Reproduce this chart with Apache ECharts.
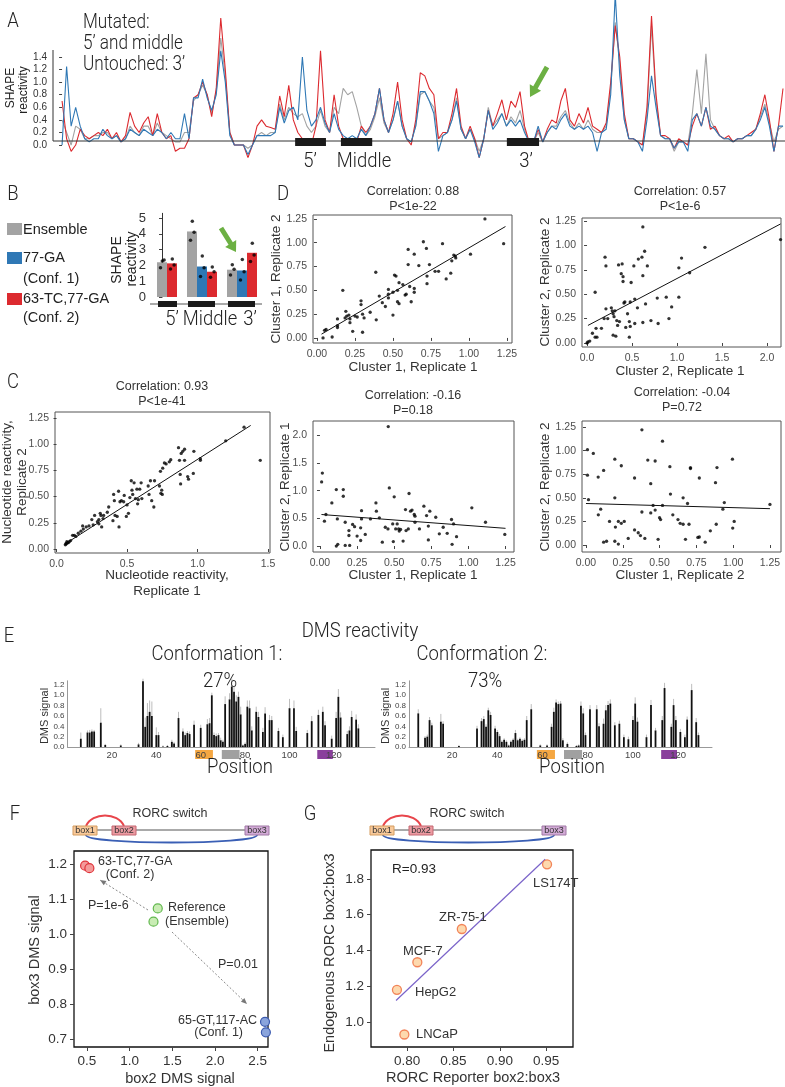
<!DOCTYPE html>
<html><head><meta charset="utf-8">
<script src="https://cdn.jsdelivr.net/npm/echarts@6/dist/echarts.min.js"></script>
<style>html,body{margin:0;padding:0;background:#fff}#c{width:785px;height:1087px}</style>
</head><body><div id="c"></div>
<script>
// ---------- Panel A: SHAPE reactivity profiles ----------
const aRed = [0.70,0.10,-0.10,0.00,0.25,0.15,0.10,0.15,0.20,0.15,
 0.25,0.10,0.20,0.05,0.15,0.52,0.30,0.20,0.35,0.45,
 0.15,0.50,0.20,0.10,0.15,-0.10,-0.05,-0.05,0.10,0.75,
 0.80,1.00,0.80,0.45,0.90,2.02,1.20,0.20,0.00,0.00,
 0.00,-0.20,0.00,0.30,0.40,0.30,0.28,0.25,0.78,0.45,
 0.95,0.40,0.20,0.10,0.05,0.00,0.30,1.50,0.40,0.20,
 0.80,0.30,0.10,0.05,0.10,0.05,0.30,0.20,0.30,0.50,
 0.90,0.40,0.20,0.50,1.00,0.40,0.10,0.00,0.40,1.15,
 1.10,0.90,0.80,0.10,0.20,0.20,0.50,0.90,0.30,0.10,
 0.30,0.10,-0.20,0.10,0.55,0.30,0.50,0.72,0.40,0.70,
 0.60,0.85,0.30,0.05,0.05,0.25,0.05,0.25,0.40,0.35,
 0.70,0.90,0.40,0.30,0.50,0.35,0.60,0.30,0.25,0.20,
 0.35,1.00,1.90,1.40,0.50,0.10,0.10,0.05,0.00,0.60,
 2.05,0.80,0.15,0.15,0.10,-0.05,0.10,0.05,0.00,0.30,
 0.50,0.30,0.60,0.25,0.30,0.15,0.10,0.15,0.05,0.10,
 0.10,0.15,0.20,0.25,0.50,0.80,0.40,-0.10,0.30,0.90];
const aGray = [0.40,0.20,0.00,0.30,0.25,0.10,0.10,0.15,0.15,0.20,
 0.20,0.10,0.15,0.05,0.10,0.30,0.20,0.15,0.30,0.30,
 0.15,0.35,0.20,0.15,0.10,0.05,0.05,0.20,0.20,0.70,
 0.80,0.95,0.80,0.50,0.85,1.70,1.10,0.20,0.00,0.00,
 0.00,-0.05,0.00,0.15,0.20,0.15,0.20,0.20,0.65,0.40,
 0.60,0.50,0.45,0.50,0.30,0.20,0.30,0.55,0.30,0.20,
 0.60,0.50,0.90,0.80,0.85,0.60,0.30,0.15,0.25,0.45,
 0.75,0.35,0.20,0.40,0.70,0.30,0.10,0.05,0.30,0.80,
 0.85,0.70,0.60,0.10,0.15,0.20,0.40,0.75,0.25,0.10,
 0.25,0.10,-0.10,0.10,0.60,0.30,0.40,0.50,0.30,0.45,
 0.35,0.55,0.25,0.05,0.05,0.20,0.05,0.20,0.30,0.30,
 0.45,0.55,0.35,0.25,0.35,0.25,0.40,0.25,0.20,0.20,
 0.30,0.90,1.95,1.30,0.40,0.10,0.10,0.05,0.00,0.50,
 1.90,0.70,0.15,0.10,0.10,-0.10,0.05,0.05,0.00,0.50,
 1.20,0.50,1.45,0.40,0.25,0.15,0.10,0.10,0.05,0.10,
 0.10,0.15,0.15,0.25,0.45,0.65,0.35,0.05,0.25,0.30];
const aBlue = [0.00,1.25,0.30,0.60,0.30,0.10,0.05,0.10,0.10,0.25,
 0.15,0.10,0.15,0.05,0.10,0.25,0.20,0.15,0.25,0.20,
 0.15,0.25,0.20,0.10,0.20,0.10,0.10,0.50,0.10,0.75,
 0.75,1.05,0.75,0.55,0.80,1.50,1.00,0.15,0.00,0.00,
 0.00,-0.15,0.00,0.15,0.15,0.15,0.15,0.20,0.60,0.35,
 0.55,0.60,0.40,1.40,0.55,0.30,0.40,0.60,0.35,0.20,
 0.50,0.25,0.15,0.10,0.15,0.10,0.25,0.15,0.30,0.50,
 0.90,0.40,0.20,0.40,0.70,0.30,0.10,0.05,0.30,0.85,
 0.85,0.70,0.50,-0.10,0.15,0.20,0.40,0.70,0.25,0.10,
 0.25,0.05,-0.20,0.10,0.55,0.25,0.35,0.50,0.30,0.40,
 0.30,0.40,0.20,0.05,0.05,0.30,0.05,0.20,0.30,0.25,
 0.40,0.50,0.30,0.25,0.30,0.25,0.30,0.20,-0.10,0.20,
 0.25,0.80,2.40,1.10,0.40,0.10,0.10,0.05,-0.10,0.40,
 1.10,0.60,0.15,0.10,0.10,-0.05,0.05,0.05,-0.10,0.40,
 0.50,0.30,0.60,0.30,0.25,0.15,0.10,0.10,0.05,0.10,
 0.10,0.15,0.15,0.25,0.40,0.60,0.30,-0.10,0.30,0.30];
const aYTicks = [0,0.2,0.4,0.6,0.8,1.0,1.2,1.4];
const aRegionLabels = ["5’", "Middle", "3’"];
const aRegionStart = [51.4, 61.5, 98.1];
const aRegionEnd = [58.2, 68.4, 105.2];

// ---------- Panel B: region SHAPE reactivity ----------
const bCategories = ["5’", "Middle", "3’"];
const bEnsemble = [2.2, 4.15, 1.73];
const bConf1 = [null, 1.93, 1.68];
const bConf2 = [2.13, 1.6, 2.8];
const bEnsembleReps = [[2.28,2.34,1.86],[4.8,4.1,3.6],[2.05,1.75,1.4]];
const bConf1Reps = [[],[2.6,1.85,1.3],[2.38,1.6,1.08]];
const bConf2Reps = [[2.4,2.03,1.77],[1.9,1.6,1.25],[3.4,2.66,2.24]];
const bYTicks = [0,1,2,3,4,5];

// ---------- Panels C & D: replicate scatter plots ----------
const d1Points = [[0.04,0.00],[0.10,0.01],[0.05,0.08],[0.06,0.09],[0.135,0.11],[0.135,0.13],[0.135,0.20],[0.17,0.50],[0.185,0.21],[0.19,0.28],[0.196,0.23],[0.21,0.24],[0.217,0.16],[0.217,0.20],[0.235,0.07],[0.25,0.23],[0.265,0.22],[0.29,0.39],[0.29,0.35],[0.30,0.06],[0.30,0.25],[0.31,0.21],[0.35,0.27],[0.387,0.69],[0.39,0.19],[0.41,0.44],[0.43,0.37],[0.45,0.33],[0.47,0.51],[0.47,0.46],[0.47,0.42],[0.50,0.24],[0.50,0.48],[0.51,0.66],[0.52,0.65],[0.53,0.50],[0.53,0.38],[0.54,0.58],[0.54,0.36],[0.565,0.56],[0.58,0.45],[0.587,0.46],[0.60,0.77],[0.60,0.93],[0.61,0.54],[0.62,0.38],[0.64,0.88],[0.64,0.52],[0.64,0.48],[0.67,0.76],[0.70,1.01],[0.72,0.94],[0.724,0.65],[0.724,0.57],[0.74,0.77],[0.777,0.70],[0.80,0.70],[0.826,0.99],[0.85,0.62],[0.88,0.68],[0.887,0.81],[0.90,0.87],[0.91,0.86],[0.913,0.84],[1.01,0.88],[1.105,1.25],[1.228,0.99]];
const d1Fit = [[0.03,0.04],[1.24,1.17]];
const d2Points = [[0.0,0.0],[0.01,0.01],[0.03,0.02],[0.06,0.10],[0.09,0.06],[0.10,0.15],[0.11,0.06],[0.09,0.52],[0.16,0.15],[0.19,0.25],[0.21,0.35],[0.20,0.88],[0.21,0.79],[0.23,0.25],[0.27,0.36],[0.28,0.33],[0.29,0.30],[0.29,0.08],[0.30,0.27],[0.31,0.33],[0.32,0.07],[0.33,0.23],[0.34,0.18],[0.35,0.80],[0.36,0.22],[0.38,0.71],[0.39,0.81],[0.40,0.68],[0.40,0.63],[0.41,0.41],[0.42,0.42],[0.43,0.16],[0.45,0.30],[0.47,0.06],[0.47,0.22],[0.48,0.42],[0.49,0.62],[0.48,0.17],[0.53,0.45],[0.52,0.79],[0.53,0.20],[0.56,0.36],[0.57,0.86],[0.61,0.88],[0.62,0.69],[0.62,0.21],[0.62,1.19],[0.64,0.94],[0.65,0.40],[0.67,0.79],[0.71,0.23],[0.78,0.46],[0.79,0.20],[0.88,0.47],[0.91,0.25],[0.94,0.37],[1.02,0.77],[1.02,0.47],[1.05,0.87],[1.14,0.72],[1.31,0.98],[2.15,1.06]];
const d2Fit = [[0.01,0.18],[2.15,1.22]];
const c1Points = [[0.062,0.04],[0.066,0.05],[0.07,0.05],[0.078,0.06],[0.073,0.07],[0.083,0.06],[0.09,0.07],[0.10,0.08],[0.114,0.13],[0.126,0.13],[0.137,0.12],[0.154,0.15],[0.173,0.17],[0.185,0.22],[0.19,0.19],[0.21,0.21],[0.23,0.22],[0.25,0.28],[0.26,0.23],[0.27,0.32],[0.29,0.26],[0.30,0.28],[0.30,0.24],[0.31,0.34],[0.315,0.32],[0.32,0.21],[0.33,0.29],[0.334,0.32],[0.36,0.35],[0.37,0.40],[0.40,0.27],[0.405,0.52],[0.41,0.46],[0.415,0.32],[0.43,0.31],[0.44,0.55],[0.443,0.21],[0.45,0.45],[0.46,0.46],[0.476,0.45],[0.48,0.51],[0.495,0.31],[0.50,0.42],[0.51,0.34],[0.52,0.49],[0.53,0.65],[0.535,0.56],[0.54,0.52],[0.55,0.63],[0.56,0.48],[0.57,0.57],[0.575,0.43],[0.58,0.47],[0.59,0.57],[0.60,0.63],[0.605,0.48],[0.65,0.60],[0.656,0.52],[0.666,0.65],[0.675,0.46],[0.69,0.40],[0.695,0.65],[0.73,0.60],[0.737,0.74],[0.74,0.53],[0.746,0.56],[0.75,0.52],[0.753,0.77],[0.765,0.82],[0.777,0.81],[0.80,0.83],[0.81,0.85],[0.865,0.965],[0.872,0.845],[0.877,0.71],[0.88,0.62],[0.884,0.91],[0.895,0.93],[0.908,0.95],[0.908,0.845],[0.93,0.69],[0.936,0.665],[0.97,0.72],[0.974,0.93],[1.02,0.86],[1.02,0.845],[1.20,1.03],[1.33,1.16],[1.445,0.845]];
const c1Fit = [[0.078,0.063],[1.377,1.177]];
const c2Points = [[0.016,1.32],[0.011,1.16],[0.03,0.45],[0.04,0.57],[0.08,0.78],[0.11,1.02],[0.117,0.49],[0.11,0.0],[0.12,0.03],[0.157,1.02],[0.157,0.90],[0.17,0.43],[0.17,0.01],[0.195,0.28],[0.195,0.19],[0.2,0.01],[0.22,0.39],[0.233,0.35],[0.25,0.18],[0.274,0.33],[0.274,0.10],[0.28,0.64],[0.28,0.49],[0.305,0.21],[0.34,0.49],[0.377,0.78],[0.38,0.63],[0.40,0.51],[0.42,0.07],[0.44,0.34],[0.458,0.31],[0.46,2.16],[0.467,1.05],[0.49,0.40],[0.494,0.08],[0.50,0.89],[0.51,0.31],[0.52,0.40],[0.53,0.31],[0.534,0.27],[0.543,0.30],[0.56,0.09],[0.576,0.66],[0.58,0.28],[0.595,0.31],[0.60,0.95],[0.61,0.63],[0.62,0.65],[0.635,0.57],[0.64,0.54],[0.64,0.43],[0.67,0.31],[0.70,0.72],[0.718,0.55],[0.73,0.36],[0.73,0.11],[0.74,0.63],[0.78,0.52],[0.804,0.22],[0.83,0.34],[0.857,0.23],[0.886,0.48],[0.89,0.03],[0.90,0.40],[0.92,0.17],[1.023,0.69],[1.115,0.43],[1.245,0.21]];
const c2Fit = [[0.01,0.57],[1.25,0.32]];
const c3Points = [[0.38,1.22],[0.52,1.10],[0.01,1.01],[0.05,0.97],[0.196,0.91],[0.24,0.84],[0.42,0.90],[0.47,0.89],[0.57,0.83],[0.71,0.82],[0.71,0.81],[0.89,0.82],[0.995,0.91],[0.01,0.74],[0.083,0.72],[0.12,0.79],[0.33,0.71],[0.77,0.71],[0.017,0.48],[0.084,0.32],[0.10,0.38],[0.196,0.50],[0.16,0.25],[0.20,0.19],[0.22,0.25],[0.24,0.23],[0.26,0.25],[0.12,0.03],[0.14,0.04],[0.196,0.04],[0.22,0.01],[0.287,0.07],[0.33,0.16],[0.355,0.13],[0.37,0.10],[0.40,0.07],[0.38,0.35],[0.44,0.65],[0.456,0.42],[0.47,0.37],[0.44,0.34],[0.50,0.29],[0.507,0.27],[0.49,0.06],[0.52,0.42],[0.574,0.54],[0.59,0.32],[0.625,0.27],[0.64,0.23],[0.66,0.50],[0.676,0.06],[0.66,0.22],[0.69,0.44],[0.70,0.22],[0.76,0.08],[0.77,0.085],[0.81,0.03],[0.845,0.15],[0.885,0.22],[0.88,0.66],[0.93,0.38],[0.94,0.45],[0.997,0.18],[1.007,0.25],[1.25,0.43]];
const c3Fit = [[0.0,0.44],[1.25,0.385]];

// ---------- Panel E: DMS signal per position ----------
const e1Positions = [6,9,10,11,12,15,17,24,32,34,35,36,37,38,40,41,43,45,47,48,50,52,53,54,55,57,60,63,64,65,66,67,68,69,70,71,73,74,75,76,77,78,79,80,81,82,83,85,86,88,89,91,92,95,97,100,102,103,108,110,113,115,116,119,121,122,123,126,127,128,130,131];
const e1Values = [0.16,0.28,0.28,0.30,0.30,0.47,0.04,0.03,0.05,1.27,0.39,0.60,0.68,0.60,0.23,0.23,0.01,0.02,0.10,0.07,0.56,0.30,0.23,0.27,0.25,0.43,0.37,0.44,0.46,1.00,0.23,0.21,0.23,0.13,0.10,0.83,0.92,1.17,1.07,0.88,0.97,0.63,0.03,0.06,0.78,0.75,0.32,0.68,0.58,0.29,0.65,0.52,0.52,0.31,0.19,0.75,0.75,0.31,0.27,0.50,0.62,0.68,0.42,0.16,0.56,0.97,0.57,0.25,0.32,0.58,0.53,0.36];
const e1Errors = [0.12,0.04,0.05,0.04,0.03,0.28,0.02,0.02,0.03,0.05,0.18,0.25,0.22,0.28,0.15,0.06,0.02,0.02,0.04,0.03,0.12,0.06,0.05,0.04,0.05,0.08,0.06,0.10,0.10,0.05,0.05,0.05,0.04,0.05,0.04,0.15,0.12,0.15,0.10,0.12,0.10,0.15,0.02,0.03,0.12,0.15,0.08,0.10,0.10,0.08,0.12,0.10,0.08,0.06,0.05,0.18,0.15,0.08,0.06,0.10,0.10,0.10,0.08,0.06,0.12,0.15,0.10,0.06,0.08,0.12,0.10,0.08];
const e2Positions = [5,8,9,10,11,15,16,23,31,33,34,35,36,37,39,40,41,42,43,44,45,46,47,48,49,50,51,52,53,55,59,62,64,65,66,67,68,69,71,75,76,77,78,79,81,84,85,87,88,89,90,92,94,96,98,100,101,102,106,108,110,113,114,117,118,119,121,123,124,126,128,129];
const e2Values = [0.65,0.18,0.20,0.52,0.42,0.49,0.45,0.02,0.36,0.50,0.54,0.39,0.71,0.62,0.36,0.29,0.21,0.10,0.14,0.10,0.03,0.10,0.14,0.27,0.13,0.16,0.12,0.14,0.52,0.73,0.03,0.03,0.39,0.68,0.86,0.83,0.84,0.13,0.06,0.02,0.03,0.80,0.65,0.23,0.73,0.73,0.40,0.45,0.71,0.81,0.84,0.42,0.45,0.19,0.15,0.52,0.84,0.49,0.19,0.81,0.32,0.52,1.14,0.39,0.81,0.52,0.29,0.19,0.53,1.10,0.48,0.23];
const e2Errors = [0.08,0.03,0.04,0.06,0.05,0.15,0.05,0.02,0.05,0.06,0.06,0.05,0.05,0.06,0.05,0.04,0.04,0.03,0.03,0.03,0.02,0.03,0.03,0.06,0.03,0.03,0.03,0.03,0.08,0.10,0.02,0.02,0.06,0.08,0.06,0.05,0.05,0.04,0.03,0.02,0.02,0.08,0.10,0.05,0.08,0.08,0.06,0.10,0.10,0.08,0.08,0.06,0.06,0.05,0.05,0.08,0.12,0.08,0.05,0.10,0.05,0.08,0.10,0.06,0.12,0.08,0.06,0.05,0.06,0.12,0.08,0.05];
const eXTicks = [20,40,60,80,100,120];
const eYTicks = [0,0.2,0.4,0.6,0.8,1.0,1.2];
const eRegionStart = [57.5, 69.5, 112.5];
const eRegionEnd = [65.5, 77.5, 119.5];

// ---------- Panel F ----------
const fGroups = ['63-TC,77-GA (Conf. 2)', 'Reference (Ensemble)', '65-GT,117-AC (Conf. 1)'];
const fBox2 = [[0.48, 0.53], [1.33, 1.28], [2.585, 2.595]];
const fBox3 = [[1.195, 1.188], [1.073, 1.035], [0.749, 0.719]];
const fXTicks = [0.5, 1.0, 1.5, 2.0, 2.5];
const fYTicks = [0.7, 0.8, 0.9, 1.0, 1.1, 1.2];

// ---------- Panel G ----------
const gCellLines = ['LS174T', 'ZR-75-1', 'MCF-7', 'HepG2', 'LNCaP'];
const gReporter = [0.951, 0.859, 0.811, 0.789, 0.797];
const gEndogenous = [1.882, 1.52, 1.334, 1.18, 0.93];
const gFit = [[0.788, 1.12], [0.949, 1.91]];
const gXTicks = [0.80, 0.85, 0.90, 0.95];
const gYTicks = [1.0, 1.2, 1.4, 1.6, 1.8];

// =====================================================
const FONT = "'Liberation Sans', Arial, Helvetica, sans-serif";
const COND = "Roboto, 'DejaVu Sans Condensed', sans-serif";
const RED = '#dc2a2f', BLUE = '#2f78b5', GRAY = '#a3a3a3';
const chart = echarts.init(document.getElementById('c'));
const grids = [], xAxes = [], yAxes = [], series = [];

function addPanel(grid, xo, yo) {
  grids.push(grid);
  const gi = grids.length - 1;
  xAxes.push(Object.assign({ gridIndex: gi, type: 'value', splitLine: { show: false } }, xo));
  yAxes.push(Object.assign({ gridIndex: gi, type: 'value', splitLine: { show: false } }, yo));
  return [xAxes.length - 1, yAxes.length - 1];
}
function tk(vals, dec, size, color, len, lineShow, lineColor) {
  return {
    axisLine: { show: !!lineShow, lineStyle: { color: lineColor || '#333', width: 1 } },
    axisTick: { show: len > 0, length: len, customValues: vals, lineStyle: { color: '#444' } },
    axisLabel: { customValues: vals, formatter: v => Number(v).toFixed(dec), fontSize: size, color: color, margin: Math.max(len, 0) + 3, fontFamily: FONT }
  };
}

// Panel A
const [axA, ayA] = addPanel({ left: 53, top: 57, width: 730, height: 106.9 },
  { min: -2, max: 159, show: false },
  Object.assign({ min: -0.3, max: 1.4 }, tk(aYTicks, 1, 10, '#333', 3, false)));
[[aGray, GRAY], [aRed, RED], [aBlue, BLUE]].forEach(([arr, col]) => {
  series.push({ type: 'line', xAxisIndex: axA, yAxisIndex: ayA, data: arr.map((v, i) => [i, v]), symbol: 'none', clip: false, lineStyle: { color: col, width: 1.1 }, silent: true, z: 3 });
});

// Panel B
const bSlotStart = [0, 3, 7];
const [axB, ayB] = addPanel({ left: 152, top: 213.3, width: 108, height: 83.7 },
  { min: -1, max: 9.8, show: false },
  Object.assign({ min: 0, max: 5.3 }, tk(bYTicks, 0, 13, '#333', 3, true, '#333')));
const bSeriesDefs = [[bEnsemble, bEnsembleReps, GRAY, 0], [bConf1, bConf1Reps, BLUE, 1], [bConf2, bConf2Reps, RED, 2]];
const bJit = [0.05, 0.35, -0.25];
bSeriesDefs.forEach(([vals, reps, col, k]) => {
  const data = [], dots = [];
  vals.forEach((v, g) => {
    if (v == null) return;
    const slot = bSlotStart[g] + (g === 0 && k === 2 ? 1 : k);
    data.push([slot, v]);
    reps[g].forEach((r, j) => dots.push([slot + bJit[j] * 0.6, r]));
  });
  series.push({ type: 'bar', xAxisIndex: axB, yAxisIndex: ayB, data, barWidth: 10, barGap: '-100%', itemStyle: { color: col }, silent: true });
  series.push({ type: 'scatter', xAxisIndex: axB, yAxisIndex: ayB, data: dots, symbolSize: 3.5, itemStyle: { color: '#000' }, silent: true, z: 5 });
});

// Scatter panels C, D
const q = [0, 0.25, 0.5, 0.75, 1, 1.25];
const scatterPanels = [
  { box: [313, 215, 199, 128], xr: [-0.026, 1.283], yr: [-0.053, 1.291], xt: q, xd: 2, yt: q, yd: 2, pts: d1Points, fit: d1Fit },
  { box: [582, 218, 199, 129], xr: [-0.056, 2.155], yr: [-0.041, 1.281], xt: [0, 0.5, 1, 1.5, 2], xd: 1, yt: q, yd: 2, pts: d2Points, fit: d2Fit },
  { box: [55, 412, 215, 141], xr: [-0.011, 1.514], yr: [-0.038, 1.305], xt: [0, 0.5, 1, 1.5], xd: 1, yt: q, yd: 2, pts: c1Points, fit: c1Fit },
  { box: [313, 421, 201, 131], xr: [-0.047, 1.307], yr: [-0.108, 2.261], xt: q, xd: 2, yt: [0, 0.5, 1, 1.5, 2], yd: 1, pts: c2Points, fit: c2Fit },
  { box: [582, 421, 199, 131], xr: [-0.027, 1.325], yr: [-0.074, 1.314], xt: q, xd: 2, yt: q, yd: 2, pts: c3Points, fit: c3Fit }
];
scatterPanels.forEach(p => {
  const [xi, yi] = addPanel({ left: p.box[0], top: p.box[1], width: p.box[2], height: p.box[3], show: true, borderColor: '#555', borderWidth: 1 },
    Object.assign({ min: p.xr[0], max: p.xr[1] }, tk(p.xt, p.xd, 10.5, '#4d4d4d', 3, false)),
    Object.assign({ min: p.yr[0], max: p.yr[1] }, tk(p.yt, p.yd, 10.5, '#4d4d4d', 3, false)));
  series.push({ type: 'scatter', xAxisIndex: xi, yAxisIndex: yi, data: p.pts, symbolSize: 3.3, itemStyle: { color: '#000' }, silent: true });
  series.push({ type: 'line', xAxisIndex: xi, yAxisIndex: yi, data: p.fit, symbol: 'none', lineStyle: { color: '#111', width: 1 }, silent: true });
});

// Panel E
function errRender(p, api) {
  const a = api.coord([api.value(0), api.value(1)]);
  const b = api.coord([api.value(0), api.value(1) + api.value(2)]);
  return { type: 'line', shape: { x1: a[0], y1: a[1], x2: b[0], y2: b[1] }, style: { stroke: '#bdbdbd', lineWidth: 1 } };
}
const ePanels = [
  { box: [67.5, 680.8, 307.5, 66.2], xr: [0, 138.5], pos: e1Positions, val: e1Values, err: e1Errors },
  { box: [409, 680.8, 303, 66.2], xr: [0.9, 135], pos: e2Positions, val: e2Values, err: e2Errors }
];
const eAxisIdx = [];
ePanels.forEach(p => {
  const [xi, yi] = addPanel({ left: p.box[0], top: p.box[1], width: p.box[2], height: p.box[3] },
    Object.assign({ min: p.xr[0], max: p.xr[1] }, tk(eXTicks, 0, 9.5, '#444', 0, true, '#999')),
    Object.assign({ min: 0, max: 1.28 }, tk(eYTicks, 1, 8, '#444', 0, true, '#999')));
  eAxisIdx.push(xi);
  series.push({ type: 'custom', xAxisIndex: xi, yAxisIndex: yi, data: p.pos.map((x, i) => [x, p.val[i], p.err[i]]), renderItem: errRender, silent: true, z: 1 });
  series.push({ type: 'bar', xAxisIndex: xi, yAxisIndex: yi, data: p.pos.map((x, i) => [x, p.val[i]]), barWidth: 1.8, itemStyle: { color: '#111' }, silent: true, z: 2 });
});

// Panel F
const [axF, ayF] = addPanel({ left: 74, top: 851, width: 194, height: 196, show: true, borderColor: '#111', borderWidth: 1.3 },
  Object.assign({ min: 0.35, max: 2.62 }, tk(fXTicks, 1, 13.5, '#333', 4, false)),
  Object.assign({ min: 0.677, max: 1.237 }, tk(fYTicks, 1, 13.5, '#333', 4, false)));
const fStyles = [{ color: '#f39a9a', borderColor: '#e0343a' }, { color: '#c9ecb4', borderColor: '#62b84e' }, { color: '#8aa4dc', borderColor: '#3c5bb0' }];
fGroups.forEach((name, i) => {
  series.push({ type: 'scatter', name, xAxisIndex: axF, yAxisIndex: ayF, data: fBox2[i].map((x, j) => [x, fBox3[i][j]]), symbolSize: 9, itemStyle: Object.assign({ borderWidth: 1.2, opacity: 1 }, fStyles[i]), silent: true, z: 4 });
});

// Panel G
const [axG, ayG] = addPanel({ left: 371, top: 850, width: 202, height: 197, show: true, borderColor: '#111', borderWidth: 1.3 },
  Object.assign({ min: 0.761, max: 0.979 }, tk(gXTicks, 2, 13.5, '#333', 4, false)),
  Object.assign({ min: 0.86, max: 1.962 }, tk(gYTicks, 1, 13.5, '#333', 4, false)));
series.push({ type: 'line', xAxisIndex: axG, yAxisIndex: ayG, data: gFit, symbol: 'none', lineStyle: { color: '#7a63c9', width: 1.2 }, silent: true, z: 2 });
series.push({ type: 'scatter', xAxisIndex: axG, yAxisIndex: ayG, data: gReporter.map((x, i) => [x, gEndogenous[i]]), symbolSize: 9, itemStyle: { color: '#fdd09a', borderColor: '#ef6a3a', borderWidth: 1.3 }, silent: true, z: 4 });

chart.setOption({ animation: false, grid: grids, xAxis: xAxes, yAxis: yAxes, series });

// ---------- annotations ----------
const G = [];
function T(x, y, text, size, o) {
  o = o || {};
  const cond = o.fam === COND;
  G.push({ type: 'text', x, y, rotation: o.rot ? Math.PI / 2 : 0, scaleX: cond ? 0.88 : 1, z: 50,
    style: { text, fill: o.color || '#222', fontSize: size, fontFamily: o.fam || FONT, fontWeight: o.w || (cond ? 300 : 'normal'), align: o.align || 'center', verticalAlign: 'middle' } });
}
function L(x1, y1, x2, y2, c, w, dash) { G.push({ type: 'line', z: 40, shape: { x1, y1, x2, y2 }, style: { stroke: c, lineWidth: w, lineDash: dash || null } }); }
function R(x, y, w, h, fill, stroke, z) { G.push({ type: 'rect', z: z == null ? 40 : z, shape: { x, y, width: w, height: h }, style: { fill, stroke: stroke || null, lineWidth: 1 } }); }
function fatArrow(x1, y1, x2, y2, sw, hw, hl, color) {
  const dx = x2 - x1, dy = y2 - y1, Ln = Math.hypot(dx, dy), ux = dx / Ln, uy = dy / Ln, nx = -uy, ny = ux;
  const bx = x2 - ux * hl, by = y2 - uy * hl;
  G.push({ type: 'polygon', z: 50, shape: { points: [[x1 + nx * sw / 2, y1 + ny * sw / 2], [bx + nx * sw / 2, by + ny * sw / 2], [bx + nx * hw / 2, by + ny * hw / 2], [x2, y2], [bx - nx * hw / 2, by - ny * hw / 2], [bx - nx * sw / 2, by - ny * sw / 2], [x1 - nx * sw / 2, y1 - ny * sw / 2]] }, style: { fill: color } });
}
function dotArrow(x1, y1, x2, y2) {
  L(x1, y1, x2, y2, '#888', 1, [2, 2]);
  const dx = x2 - x1, dy = y2 - y1, Ln = Math.hypot(dx, dy), ux = dx / Ln, uy = dy / Ln, nx = -uy, ny = ux;
  G.push({ type: 'polygon', z: 50, shape: { points: [[x2, y2], [x2 - ux * 6 + nx * 2.5, y2 - uy * 6 + ny * 2.5], [x2 - ux * 6 - nx * 2.5, y2 - uy * 6 - ny * 2.5]] }, style: { fill: '#777' } });
}
const PL = 21;
// Panel A
T(13, 22, 'A', PL, { fam: COND });
T(83, 23, 'Mutated:', 19.5, { fam: COND, align: 'left' });
T(83, 44, '5’ and middle', 19.5, { fam: COND, align: 'left' });
T(83, 65, 'Untouched: 3’', 19.5, { fam: COND, align: 'left' });
T(11, 88, 'SHAPE', 12, { rot: 1 });
T(24, 90, 'reactivity', 12, { rot: 1 });
L(53, 50, 53, 141, '#333', 1);
L(53, 141, 785, 141, '#333', 1);
aRegionLabels.forEach((lab, i) => {
  const x1 = chart.convertToPixel({ xAxisIndex: axA }, aRegionStart[i]);
  const x2 = chart.convertToPixel({ xAxisIndex: axA }, aRegionEnd[i]);
  R(x1, 138, x2 - x1, 8, '#1a1a1a');
});
T(310, 162, aRegionLabels[0], 21, { fam: COND });
T(364, 162, aRegionLabels[1], 21, { fam: COND });
T(526, 162, aRegionLabels[2], 21, { fam: COND });
fatArrow(547, 67, 530, 97, 5, 13, 11, '#6cb043');

// Panel B
T(13, 195, 'B', PL, { fam: COND });
R(7, 223, 15, 12, GRAY); T(23, 230, 'Ensemble', 14.5, { align: 'left' });
R(7, 252, 15, 12, BLUE); T(23, 258, '77-GA', 14.5, { align: 'left' }); T(23, 279, '(Conf. 1)', 14.5, { align: 'left' });
R(7, 293, 15, 12, RED); T(23, 299, '63-TC,77-GA', 14.5, { align: 'left' }); T(23, 318, '(Conf. 2)', 14.5, { align: 'left' });
T(117, 260, 'SHAPE', 14, { rot: 1 });
T(132, 259, 'reactivity', 14, { rot: 1 });
L(150, 304, 262, 304, '#555', 1);
R(158, 301, 19, 6, '#1a1a1a'); R(188, 301, 27, 6, '#1a1a1a'); R(228, 301, 27, 6, '#1a1a1a');
T(172, 320, bCategories[0], 21, { fam: COND });
T(210, 320, bCategories[1], 21, { fam: COND });
T(250, 320, bCategories[2], 21, { fam: COND });
fatArrow(221, 228, 236, 252, 5, 13, 10, '#6cb043');

// Panels C/D text
T(283, 195, 'D', PL, { fam: COND });
T(13, 383, 'C', PL, { fam: COND });
const TS = 12.5, AS = 13.5;
const titles = [
  [413, 192, 'Correlation: 0.88', 'P<1e-22'], [680, 192, 'Correlation: 0.57', 'P<1e-6'],
  [162, 387, 'Correlation: 0.93', 'P<1e-41'], [413, 396, 'Correlation: -0.16', 'P=0.18'], [682, 393, 'Correlation: -0.04', 'P=0.72']];
titles.forEach(t => { T(t[0], t[1], t[2], TS, { color: '#333' }); T(t[0], t[1] + 15, t[3], TS, { color: '#333' }); });
T(413, 367, 'Cluster 1, Replicate 1', AS, { color: '#333' });
T(276, 279, 'Cluster 1, Replicate 2', AS, { color: '#333', rot: 1 });
T(680, 371, 'Cluster 2, Replicate 1', AS, { color: '#333' });
T(545, 282, 'Cluster 2, Replicate 2', AS, { color: '#333', rot: 1 });
T(167, 575, 'Nucleotide reactivity,', AS, { color: '#333' });
T(167, 591, 'Replicate 1', AS, { color: '#333' });
T(7, 482, 'Nucleotide reactivity,', AS, { color: '#333', rot: 1 });
T(22, 482, 'Replicate 2', AS, { color: '#333', rot: 1 });
T(413, 575, 'Cluster 1, Replicate 1', AS, { color: '#333' });
T(285, 487, 'Cluster 2, Replicate 1', AS, { color: '#333', rot: 1 });
T(680, 575, 'Cluster 1, Replicate 2', AS, { color: '#333' });
T(545, 487, 'Cluster 2, Replicate 2', AS, { color: '#333', rot: 1 });

// Panel E
T(9, 637, 'E', PL, { fam: COND });
T(360, 632, 'DMS reactivity', 21, { fam: COND });
T(217, 655, 'Conformation 1:', 21, { fam: COND });
T(220, 682, '27%', 21, { fam: COND });
T(482, 655, 'Conformation 2:', 21, { fam: COND });
T(485, 682, '73%', 21, { fam: COND });
T(240, 768, 'Position', 21, { fam: COND });
T(572, 768, 'Position', 21, { fam: COND });
T(45, 716, 'DMS signal', 11, { rot: 1, color: '#333' });
T(386, 716, 'DMS signal', 11, { rot: 1, color: '#333' });
const eCols = ['#f5a742', '#a0a0a0', '#8a3f9c'];
eAxisIdx.forEach(xi => {
  eRegionStart.forEach((s, i) => {
    const x1 = chart.convertToPixel({ xAxisIndex: xi }, s);
    const x2 = chart.convertToPixel({ xAxisIndex: xi }, eRegionEnd[i]);
    R(x1, 750, x2 - x1, 9, eCols[i], null, -1);
  });
});

// Diagram
function diagram(ox) {
  T(170 + ox, 814, 'RORC switch', 12.5, { color: '#333' });
  L(75 + ox, 830, 269 + ox, 830, '#555', 1);
  G.push({ type: 'bezierCurve', z: 45, shape: { x1: 86 + ox, y1: 826, cpx1: 92 + ox, cpy1: 812, cpx2: 118 + ox, cpy2: 812, x2: 124 + ox, y2: 826 }, style: { stroke: '#e8454b', lineWidth: 2, fill: null } });
  G.push({ type: 'bezierCurve', z: 45, shape: { x1: 86 + ox, y1: 835, cpx1: 86 + ox, cpy1: 845, cpx2: 257 + ox, cpy2: 845, x2: 257 + ox, y2: 835 }, style: { stroke: '#3a5fb5', lineWidth: 2, fill: null } });
  R(73 + ox, 826, 24, 9, '#f8c99a', '#d49c5e', 46); T(85 + ox, 830.5, 'box1', 9, { color: '#333' });
  R(112 + ox, 826, 24, 9, '#ec9aa1', '#c46670', 46); T(124 + ox, 830.5, 'box2', 9, { color: '#333' });
  R(245 + ox, 826, 24, 9, '#d2aad6', '#a078a5', 46); T(257 + ox, 830.5, 'box3', 9, { color: '#333' });
}
// Panel F
T(15, 815, 'F', PL, { fam: COND });
diagram(0);
T(98, 862, '63-TC,77-GA', 12.5, { align: 'left', color: '#333' });
T(130, 875, '(Conf. 2)', 12.5, { color: '#333' });
T(168, 908, 'Reference', 12.5, { align: 'left', color: '#333' });
T(165, 922, '(Ensemble)', 12.5, { align: 'left', color: '#333' });
T(88, 906, 'P=1e-6', 12.5, { align: 'left', color: '#333' });
T(218, 965, 'P=0.01', 12.5, { align: 'left', color: '#333' });
T(257, 1021, '65-GT,117-AC', 12.5, { align: 'right', color: '#333' });
T(243, 1033, '(Conf. 1)', 12.5, { align: 'right', color: '#333' });
dotArrow(148, 910, 100, 880);
dotArrow(172, 932, 247, 1004);
T(35, 950, 'box3 DMS signal', 14.5, { rot: 1, color: '#333' });
T(180, 1079, 'box2 DMS signal', 14.5, { color: '#333' });
// Panel G
T(310, 815, 'G', PL, { fam: COND });
diagram(297);
T(392, 869, 'R=0.93', 13.5, { align: 'left', color: '#222' });
const gLabelPos = [[533, 883], [439, 917], [403, 951], [415, 992], [416, 1034]];
gCellLines.forEach((n, i) => T(gLabelPos[i][0], gLabelPos[i][1], n, 13, { align: 'left', color: '#333' }));
T(330, 953, 'Endogenous RORC box2:box3', 14.5, { rot: 1, color: '#333' });
T(473, 1078, 'RORC Reporter box2:box3', 14.5, { color: '#333' });

chart.setOption({ graphic: { elements: G } });
</script></body></html>
